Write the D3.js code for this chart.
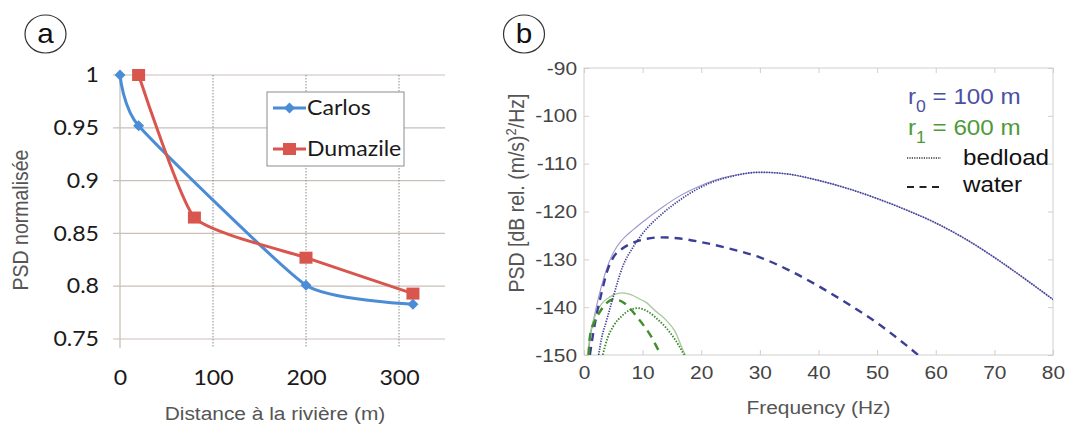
<!DOCTYPE html>
<html><head><meta charset="utf-8">
<script src="https://cdn.jsdelivr.net/npm/d3@7"></script>
<style>html,body{margin:0;padding:0;background:#fff;}svg{display:block;}</style>
</head><body>
<svg id="c" width="1066" height="425"></svg>
<script>
// ---------- DATA: panel a ----------
const aXTicks = [0, 100, 200, 300];
const aYTicks = [0.75, 0.8, 0.85, 0.9, 0.95, 1];
const aSeriesNames = ["Carlos", "Dumazile"];
const carlosDist = [0, 20, 200, 315];
const carlosPSD  = [1, 0.952, 0.801, 0.783];
const dumazileDist = [20, 80, 200, 315];
const dumazilePSD  = [1, 0.865, 0.827, 0.793];

// ---------- DATA: panel b ----------
const bXTicks = [0, 10, 20, 30, 40, 50, 60, 70, 80];
const bYTicks = [-150, -140, -130, -120, -110, -100, -90];
const bLegend = ["bedload", "water"];
// r0 = 100 m
const r0BedloadF  = [2.5, 3.0, 3.8, 5, 6.6, 8.4, 10, 13.5, 16, 19.2, 22, 25, 30, 35, 40, 45, 50, 55, 60, 65, 70, 75, 80];
const r0BedloadDB = [-150, -146.5, -143, -137.8, -131.5, -127.4, -124.6, -120.3, -117.9, -115.4, -113.8, -112.7, -111.8, -112.2, -113.5, -115.2, -117.3, -119.7, -122.4, -125.7, -129.6, -133.9, -138.4];
const r0WaterF  = [1.0, 1.5, 2.0, 3.0, 4.0, 5.0, 6.5, 8, 10, 13, 16, 20, 25, 30, 35, 40, 45, 50, 55, 57];
const r0WaterDB = [-150, -146, -142.5, -137, -132.3, -129.6, -127.8, -126.7, -125.9, -125.4, -125.6, -126.4, -127.8, -129.6, -132.3, -135.6, -139.3, -143.3, -148, -150];
const r0TotalF  = [0.7, 1.2, 2, 3, 4, 5, 6.6, 8.4, 10, 13.5, 16, 19.2, 22, 25, 30, 35, 40, 45, 50, 55, 60, 65, 70, 75, 80];
const r0TotalDB = [-150, -145.5, -140.5, -135.5, -131.5, -128.6, -125.8, -123.8, -122.2, -119, -117, -115, -113.6, -112.6, -111.8, -112.2, -113.5, -115.2, -117.3, -119.7, -122.4, -125.7, -129.6, -133.9, -138.4];
// r1 = 600 m
const r1BedloadF  = [3.2, 4, 5, 6.5, 7.8, 9.2, 11, 12.7, 14, 15.6, 17.1];
const r1BedloadDB = [-150, -146.5, -144, -141.8, -140.6, -140.2, -141, -142.7, -144.3, -146.9, -150];
const r1WaterF  = [0.8, 1.0, 1.8, 2.7, 3.8, 5, 6, 6.9, 8, 9.2, 10.4, 11.5, 12.7, 13.2];
const r1WaterDB = [-150, -146.2, -143, -141, -139.2, -138.4, -138.6, -139.2, -140.5, -142.3, -144.2, -146.2, -149, -150];
const r1TotalF  = [0.6, 1, 2, 3, 4.5, 5.5, 6.6, 8, 9.5, 10.6, 12, 14, 15.5, 16.9, 17.3];
const r1TotalDB = [-150, -146, -141.5, -139.3, -137.8, -137.2, -137, -137.4, -138.3, -139, -140.6, -142.7, -145, -149, -150];

const svg = d3.select("#c");
const SX = 1.1; // the reference is slightly stretched horizontally
function stretch(sel){
  sel.each(function(){
    const t = d3.select(this);
    const x = +t.attr("x") || 0;
    t.attr("transform", `translate(${x - SX*x},0) scale(${SX},1)`);
  });
}
const plain = d => String(d); // hyphen-minus as in the reference

// ---------- panel labels ----------
function panelLabel(cx, cy, txt){
  svg.append("ellipse").attr("cx", cx).attr("cy", cy).attr("rx", 20.5).attr("ry", 19)
    .attr("fill", "none").attr("stroke", "#333").attr("stroke-width", 1.2);
  svg.append("text").attr("x", cx).attr("y", cy + 9).attr("text-anchor", "middle")
    .attr("font-family", "Liberation Sans, Arial, sans-serif").attr("font-size", 27).attr("fill", "#111")
    .text(txt).call(stretch);
}
panelLabel(45.5, 34, "a");
panelLabel(524, 34, "b");

// ================= PANEL A =================
const xA = d3.scaleLinear().domain([0, 300]).range([120, 399]);
const yA = d3.scaleLinear().domain([0.75, 1]).range([339, 75]);
const gA = svg.append("g");
const gridCol = "#c9c0b9";
gA.selectAll("line.hg").data(aYTicks).join("line")
  .attr("x1", 113).attr("x2", 445)
  .attr("y1", d => yA(d)).attr("y2", d => yA(d))
  .attr("stroke", gridCol).attr("stroke-width", 1.2);
gA.selectAll("line.vg").data(aXTicks.slice(1)).join("line")
  .attr("x1", d => xA(d)).attr("x2", d => xA(d))
  .attr("y1", yA(1)).attr("y2", 348)
  .attr("stroke", "#8a8a8a").attr("stroke-width", 1).attr("stroke-dasharray", "1.5,1.5");
gA.append("line").attr("x1", xA(0)).attr("x2", xA(0)).attr("y1", yA(1)).attr("y2", 348)
  .attr("stroke", gridCol).attr("stroke-width", 1.3);

const aFont = "Lato, Carlito, Calibri, sans-serif";
const axYA = gA.append("g").attr("transform", `translate(${xA(0)},0)`)
  .call(d3.axisLeft(yA).tickValues(aYTicks).tickFormat(plain).tickSize(0).tickPadding(21));
const axXA = gA.append("g").attr("transform", `translate(0,${yA(0.75)})`)
  .call(d3.axisBottom(xA).tickValues(aXTicks).tickFormat(plain).tickSize(0).tickPadding(31));
[axYA, axXA].forEach(ax => {
  ax.select(".domain").remove();
  ax.selectAll("line").remove();
  ax.selectAll("text").attr("font-family", aFont).attr("font-size", 21).attr("fill", "#1a1a1a").call(stretch);
});

const cBlue = "#4a8cd6", cRed = "#d8564e";
const lineA = d3.line().x(d => xA(d[0])).y(d => yA(d[1])).curve(d3.curveCardinal.tension(0.5));
const carlos = carlosDist.map((d, i) => [d, carlosPSD[i]]);
const dumazile = dumazileDist.map((d, i) => [d, dumazilePSD[i]]);
gA.append("path").datum(carlos).attr("d", lineA).attr("fill", "none").attr("stroke", cBlue).attr("stroke-width", 3);
gA.append("path").datum(dumazile).attr("d", lineA).attr("fill", "none").attr("stroke", cRed).attr("stroke-width", 3);
const diamond = "M0,-5.5L5.5,0L0,5.5L-5.5,0Z";
gA.selectAll("path.cm").data(carlos).join("path").attr("d", diamond)
  .attr("transform", d => `translate(${xA(d[0])},${yA(d[1])})`).attr("fill", cBlue);
gA.selectAll("rect.dm").data(dumazile).join("rect")
  .attr("x", d => xA(d[0]) - 6.5).attr("y", d => yA(d[1]) - 6).attr("width", 13).attr("height", 12).attr("fill", cRed);

// legend a
const lgA = gA.append("g");
lgA.append("rect").attr("x", 267).attr("y", 92).attr("width", 137).attr("height", 74)
  .attr("fill", "#fff").attr("stroke", "#8c8c8c").attr("stroke-width", 1);
[[cBlue, 108, "d"], [cRed, 149, "s"]].forEach((c, i) => {
  lgA.append("line").attr("x1", 273).attr("x2", 306).attr("y1", c[1]).attr("y2", c[1])
    .attr("stroke", c[0]).attr("stroke-width", 3);
  if (c[2] === "d") lgA.append("path").attr("d", diamond).attr("transform", `translate(289.5,${c[1]})`).attr("fill", c[0]);
  else lgA.append("rect").attr("x", 283).attr("y", c[1] - 6).attr("width", 13).attr("height", 12).attr("fill", c[0]);
  lgA.append("text").attr("x", 307).attr("y", c[1] + 7.5).attr("font-family", aFont).attr("font-size", 21)
    .attr("fill", "#1a1a1a").text(aSeriesNames[i]).call(stretch);
});

const hFont = "Liberation Sans, Arial, sans-serif";
svg.append("text").attr("text-anchor", "middle").attr("font-family", hFont).attr("font-size", 19.5).attr("fill", "#555")
  .attr("transform", `translate(28,220) scale(${SX},1) rotate(-90)`).text("PSD normalisée");
svg.append("text").attr("x", 275).attr("y", 420).attr("text-anchor", "middle").attr("font-family", hFont)
  .attr("font-size", 19).attr("fill", "#555").text("Distance à la rivière (m)").call(stretch);

// ================= PANEL B =================
const xB = d3.scaleLinear().domain([0, 80]).range([584, 1053]);
const yB = d3.scaleLinear().domain([-150, -90]).range([355, 68]);
const gB = svg.append("g");
const frameCol = "#cfcfcf";
const mk = (o, s) => gB.append("g").attr("transform", o).call(s);
const axB = [
  mk(`translate(0,${yB(-150)})`, d3.axisBottom(xB).tickValues(bXTicks).tickFormat(plain).tickSizeInner(-5).tickSizeOuter(0).tickPadding(11)),
  mk(`translate(0,${yB(-90)})`, d3.axisTop(xB).tickValues(bXTicks).tickFormat("").tickSizeInner(-5).tickSizeOuter(0)),
  mk(`translate(${xB(0)},0)`, d3.axisLeft(yB).tickValues(bYTicks).tickFormat(plain).tickSizeInner(-5).tickSizeOuter(0).tickPadding(7)),
  mk(`translate(${xB(80)},0)`, d3.axisRight(yB).tickValues(bYTicks).tickFormat("").tickSizeInner(-5).tickSizeOuter(0))
];
axB.forEach(ax => {
  ax.select(".domain").remove();
  ax.selectAll("line").attr("stroke", frameCol);
  ax.selectAll("text").attr("font-family", hFont).attr("font-size", 19).attr("fill", "#444").call(stretch);
});
gB.append("rect").attr("x", xB(0)).attr("y", yB(-90)).attr("width", xB(80) - xB(0)).attr("height", yB(-150) - yB(-90))
  .attr("fill", "none").attr("stroke", frameCol).attr("stroke-width", 1);

svg.append("defs").append("clipPath").attr("id", "clipB").append("rect")
  .attr("x", xB(0)).attr("y", yB(-90)).attr("width", xB(80) - xB(0)).attr("height", yB(-150) - yB(-90));
const curves = gB.append("g").attr("clip-path", "url(#clipB)");
const lineB = d3.line().x(d => xB(d[0])).y(d => yB(d[1])).curve(d3.curveMonotoneX);
const zip = (a, b) => a.map((v, i) => [v, b[i]]);
const cB = "#3b3e96", cBl = "#9d97cc", cG = "#3f8d2c", cGl = "#a9c79c";
const series = [
  [zip(r0TotalF, r0TotalDB), cBl, 1.1, null],
  [zip(r1TotalF, r1TotalDB), cGl, 1.3, null],
  [zip(r0WaterF, r0WaterDB), cB, 2.4, "8,6"],
  [zip(r1WaterF, r1WaterDB), cG, 2.4, "8,6"],
  [zip(r0BedloadF, r0BedloadDB), cB, 1.7, "1.3,1.3"],
  [zip(r1BedloadF, r1BedloadDB), cG, 1.9, "1.5,1.5"]
];
series.forEach(s => {
  curves.append("path").datum(s[0]).attr("d", lineB).attr("fill", "none")
    .attr("stroke", s[1]).attr("stroke-width", s[2]).attr("stroke-dasharray", s[3]);
});

// legend b
const lgB = gB.append("g").attr("font-family", hFont).attr("font-size", 22);
function rLabel(y, sub, rest, col){
  const t = lgB.append("text").attr("x", 908).attr("y", y).attr("fill", col);
  t.append("tspan").text("r");
  t.append("tspan").attr("dy", 8).attr("font-size", 16).text(sub);
  t.append("tspan").attr("dy", -8).text(" = " + rest);
  t.call(stretch);
}
rLabel(104, "0", "100 m", "#4b4fa6");
rLabel(135, "1", "600 m", "#4e9a3a");
lgB.append("line").attr("x1", 907).attr("x2", 941).attr("y1", 158).attr("y2", 158)
  .attr("stroke", "#333").attr("stroke-width", 1.6).attr("stroke-dasharray", "1.2,1.2");
lgB.append("line").attr("x1", 907).attr("x2", 941).attr("y1", 187).attr("y2", 187)
  .attr("stroke", "#222").attr("stroke-width", 2.2).attr("stroke-dasharray", "7,5.5");
lgB.append("text").attr("x", 963).attr("y", 165).attr("fill", "#111").text(bLegend[0]).call(stretch);
lgB.append("text").attr("x", 963).attr("y", 192).attr("fill", "#111").text(bLegend[1]).call(stretch);

const ty = svg.append("text").attr("text-anchor", "middle").attr("font-family", hFont).attr("font-size", 19.5).attr("fill", "#555")
  .attr("transform", `translate(524,193) scale(${SX},1) rotate(-90)`);
ty.append("tspan").text("PSD [dB rel. (m/s)");
ty.append("tspan").attr("dy", -7).attr("font-size", 13).text("2");
ty.append("tspan").attr("dy", 7).text("/Hz]");
svg.append("text").attr("x", xB(40)).attr("y", 414).attr("text-anchor", "middle").attr("font-family", hFont)
  .attr("font-size", 19).attr("fill", "#555").text("Frequency (Hz)").call(stretch);
</script>
</body></html>
